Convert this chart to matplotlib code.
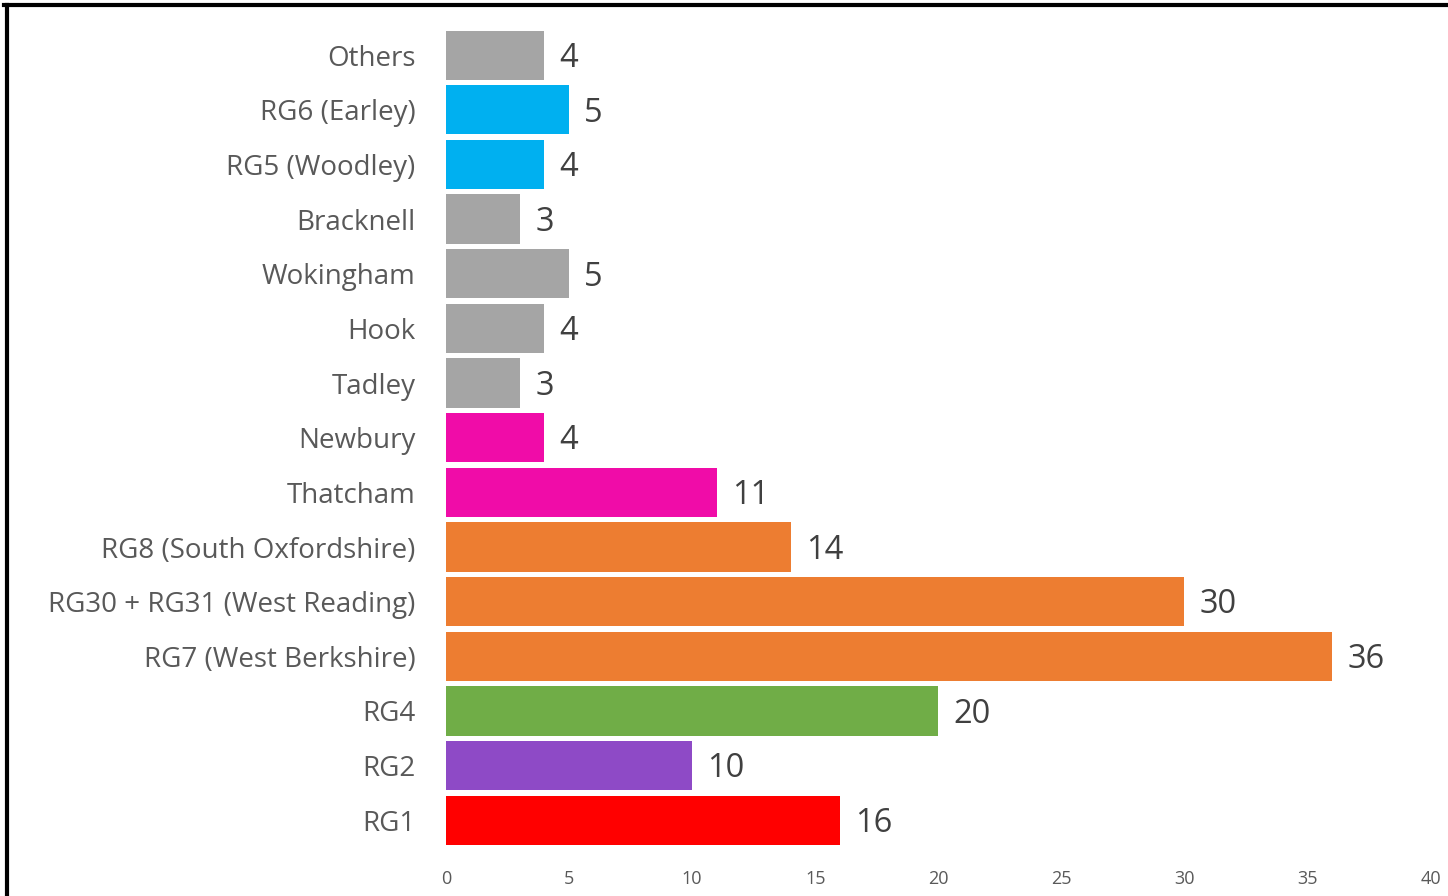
import matplotlib.pyplot as plt
from matplotlib.lines import Line2D

plt.rcParams['font.family'] = ['Open Sans', 'DejaVu Sans']

# data, bottom to top
categories = ["RG1", "RG2", "RG4", "RG7 (West Berkshire)", "RG30 + RG31 (West Reading)",
              "RG8 (South Oxfordshire)", "Thatcham", "Newbury", "Tadley", "Hook",
              "Wokingham", "Bracknell", "RG5 (Woodley)", "RG6 (Earley)", "Others"]
values = [16, 10, 20, 36, 30, 14, 11, 4, 3, 4, 5, 3, 4, 5, 4]
colors = ["#FF0000", "#8E4AC6", "#70AD47", "#ED7D31", "#ED7D31",
          "#ED7D31", "#F00CA8", "#F00CA8", "#A5A5A5", "#A5A5A5",
          "#A5A5A5", "#A5A5A5", "#00B0F0", "#00B0F0", "#A5A5A5"]
xticks = [0, 5, 10, 15, 20, 25, 30, 35, 40]

fig = plt.figure(figsize=(14.48, 8.96), dpi=100)
ax = fig.add_axes([0.308, 0.054, 0.680, 0.915])

pos = range(len(categories))
ax.barh(pos, values, height=0.9, color=colors)
for y, v in zip(pos, values):
    ax.text(v + 0.62, y - 0.06, str(v), va="center", ha="left",
            fontsize=23.5, color="#404040")

ax.set_xlim(0, 40)
ax.set_ylim(-0.5, len(categories) - 0.5)
ax.set_yticks(list(pos))
ax.set_yticklabels(categories, fontsize=20, color="#595959")
ax.set_xticks(xticks)
ax.set_xticklabels([str(t) for t in xticks], fontsize=13, color="#595959")
ax.tick_params(axis="y", length=0, pad=22)
ax.tick_params(axis="x", length=0, pad=16)
for s in ax.spines.values():
    s.set_visible(False)

# frame lines at the left and top of the picture
fig.add_artist(Line2D([0.0049, 0.0049], [0, 0.9945], transform=fig.transFigure,
                      color="black", linewidth=3))
fig.add_artist(Line2D([0.003, 1.0], [0.9945, 0.9945], transform=fig.transFigure,
                      color="black", linewidth=3))

fig.savefig("out.png", dpi=100, facecolor="white")
